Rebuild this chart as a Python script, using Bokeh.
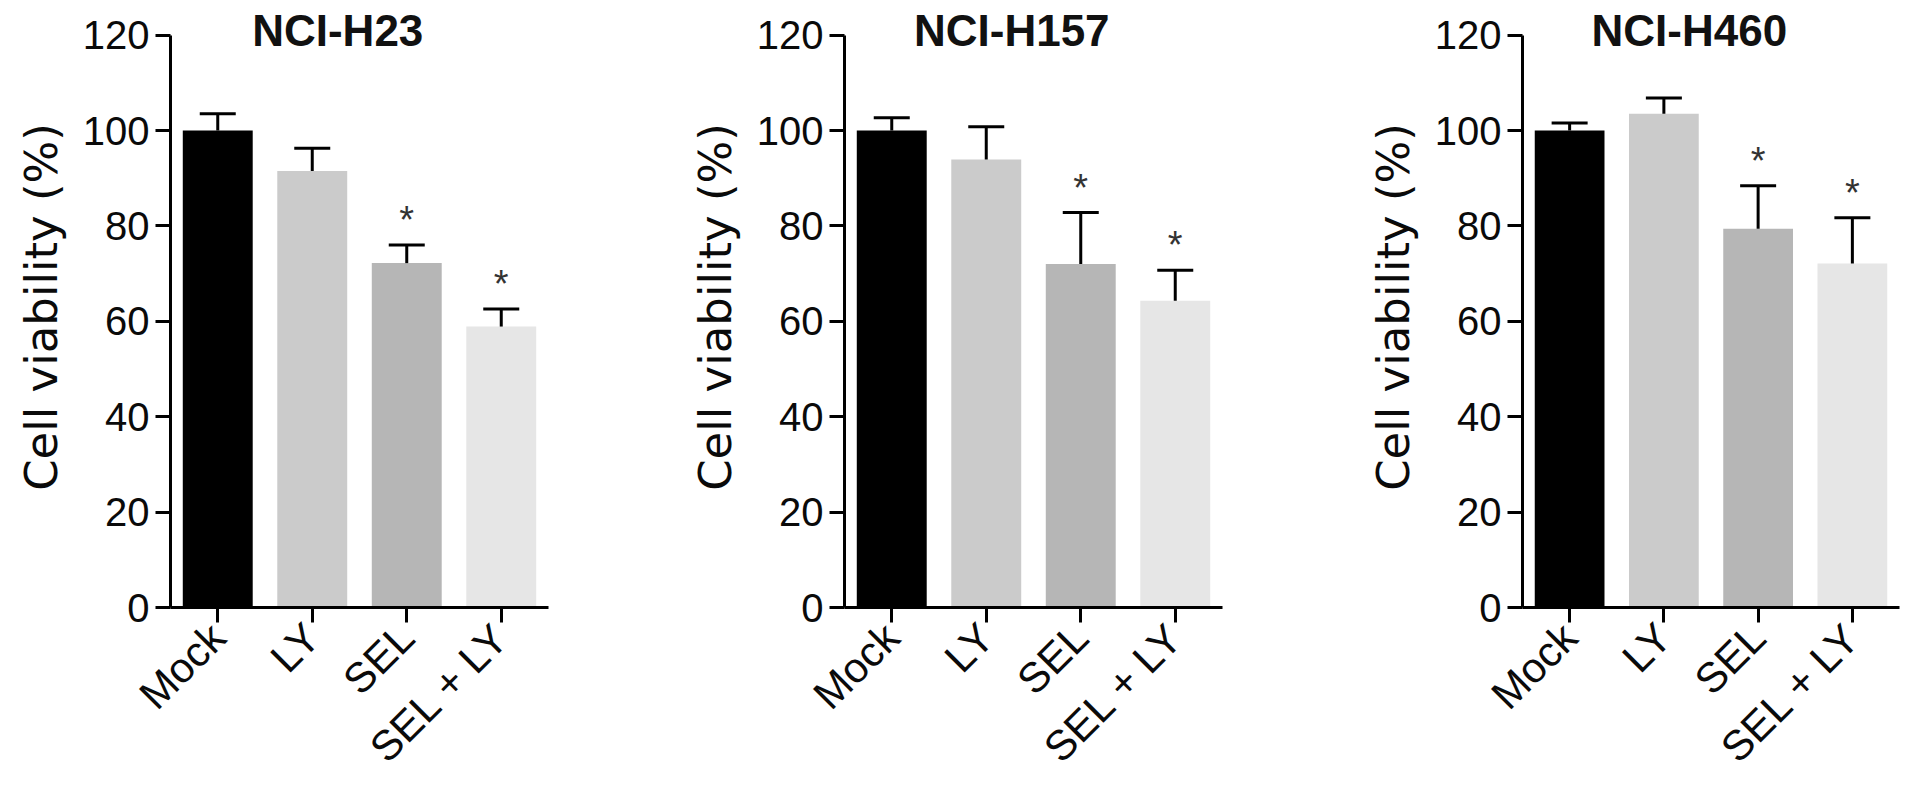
from bokeh.plotting import figure
from bokeh.layouts import row
from bokeh.models import ColumnDataSource, Whisker, TeeHead, FactorRange, Range1d, FixedTicker
from bokeh.embed import file_html
from bokeh.resources import INLINE
from bokeh.core.properties import value

groups = ["Mock", "LY", "SEL", "SEL + LY"]
colors = ["#000000", "#cbcbcb", "#b6b6b6", "#e6e6e6"]
titles = ["NCI-H23", "NCI-H157", "NCI-H460"]

h23_mean = [100.0, 91.5, 72.2, 58.9]
h23_upper = [103.5, 96.3, 76.0, 62.6]
h157_mean = [100.0, 93.9, 72.0, 64.3]
h157_upper = [102.7, 100.8, 82.8, 70.7]
h460_mean = [100.0, 103.5, 79.4, 72.1]
h460_upper = [101.6, 106.8, 88.4, 81.7]
significant = [False, False, True, True]

y_ticks = [0, 20, 40, 60, 80, 100, 120]
y_axis_max = 120

FONT = "Liberation Sans"
LABEL_FONT = "DejaVu Sans"
STAR_GAP = 5.2      # data units between cap and asterisk
TITLE_Y = 121.0     # title position in data units (just above the axis end)
TITLE_X = 1.77      # synthetic x of title centre


def panel(title, means, uppers, width, right_border):
    p = figure(x_range=FactorRange(*groups, range_padding=0),
               y_range=Range1d(0, 126),
               width=width, height=790,
               min_border_left=170, min_border_right=right_border,
               min_border_top=6, min_border_bottom=183,
               output_backend="svg", toolbar_location=None,
               background_fill_color="white", border_fill_color="white",
               outline_line_color=None)
    src = ColumnDataSource(dict(g=groups, m=means, u=uppers, c=colors))
    p.vbar(x="g", top="m", width=0.74, fill_color="c", line_color=None, source=src)
    w = Whisker(base="g", lower="m", upper="u", source=src,
                line_color="black", line_width=3,
                upper_head=TeeHead(size=36, line_color="black", line_width=3),
                lower_head=None, level="glyph")
    p.add_layout(w)
    sx = [g for g, s in zip(groups, significant) if s]
    sy = [u + STAR_GAP for u, s in zip(uppers, significant) if s]
    p.text(x=sx, y=sy, text=["*"] * len(sx), text_align="center",
           text_baseline="middle", text_font=value(FONT), text_font_size="38px",
           text_color="#333333")
    p.text(x=[TITLE_X], y=[TITLE_Y], text=[title], text_align="center",
           text_baseline="middle", text_font=value(FONT), text_font_size="44px",
           text_font_style="bold", text_color="#111111")
    p.grid.visible = False
    for ax in (p.xaxis[0], p.yaxis[0]):
        ax.axis_line_width = 3
        ax.axis_line_color = "black"
        ax.major_tick_line_width = 3
        ax.major_tick_line_color = "black"
        ax.major_tick_out = 15
        ax.major_tick_in = 0
        ax.minor_tick_line_color = None
        ax.major_label_text_font = FONT
        ax.major_label_text_color = "#0a0a0a"
        ax.major_label_standoff = 6
    p.yaxis.ticker = FixedTicker(ticks=y_ticks)
    p.yaxis.bounds = (0, y_axis_max)
    p.yaxis.major_label_text_font_size = "40px"
    p.yaxis.axis_label = "Cell viability (%)"
    p.yaxis.axis_label_text_font = LABEL_FONT
    p.yaxis.axis_label_text_font_size = "45px"
    p.yaxis.axis_label_text_font_style = "normal"
    p.yaxis.axis_label_text_color = "#0a0a0a"
    p.yaxis.axis_label_standoff = 12
    p.xaxis.major_label_text_font_size = "42px"
    p.xaxis.major_label_orientation = 0.785398
    p.xaxis.major_label_standoff = 8
    return p


p1 = panel(titles[0], h23_mean, h23_upper, 674, 126)
p2 = panel(titles[1], h157_mean, h157_upper, 678, 130)
p3 = panel(titles[2], h460_mean, h460_upper, 557, 10)

layout = row(p1, p2, p3, spacing=0)
open("out.html", "w").write(file_html(layout, INLINE))
